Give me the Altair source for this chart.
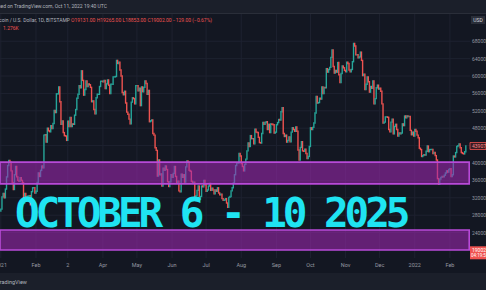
import altair as alt
import pandas as pd

W, H = 486, 290
BG = "#131722"
PANEL = "#1b1f2a"
GRID = "#1e2230"
UP = "#26a69a"
DOWN = "#ef5350"
AXIS_TXT = "#9598a1"

# Daily closes, BTC/USD (Bitstamp), one list per month
c_2021_01 = [29400, 32200, 33000, 32000, 34000, 36800, 39400, 40600, 40200, 38200,
             35500, 33900, 37300, 39200, 36800, 36000, 35800, 36600, 36000, 35500,
             30800, 33000, 32100, 32300, 32400, 32500, 30400, 33400, 34300, 34300, 33100]
c_2021_02 = [33500, 35500, 37700, 36900, 38300, 39300, 38900, 46400, 46500, 44800,
             48000, 47400, 47200, 48600, 47900, 49100, 52100, 51600, 55900, 55900,
             57500, 54100, 48900, 49700, 47000, 46300, 46200, 45200]
c_2021_03 = [49600, 48400, 50500, 48400, 49000, 48900, 51000, 52300, 54900, 55800,
             57800, 57300, 61200, 59000, 55600, 56900, 58900, 57600, 58200, 58000,
             57400, 54100, 54300, 52300, 51300, 55000, 55800, 55800, 57600, 58800, 58800]
c_2021_04 = [58700, 59000, 57100, 58200, 59100, 57900, 56000, 58100, 58100, 59800,
             59800, 59900, 63600, 62900, 63200, 61400, 60000, 56200, 55700, 56500,
             53800, 51700, 51200, 50100, 49000, 54000, 55000, 54800, 53600, 57800]
c_2021_05 = [57800, 56600, 57200, 53200, 57500, 56400, 57400, 58900, 58300, 55800,
             56700, 49500, 49700, 49900, 46800, 46400, 43500, 42900, 37000, 40700,
             37300, 37500, 34700, 38800, 38300, 39300, 38500, 35700, 34600, 35700, 37300]
c_2021_06 = [36700, 37600, 39200, 36900, 35500, 35800, 33600, 33400, 37400, 36700,
             37300, 35600, 39100, 40500, 40200, 38300, 38100, 35800, 35500, 35600,
             31600, 32500, 33700, 34700, 31600, 32300, 34700, 34500, 36000, 35000]
c_2021_07 = [33500, 33800, 34700, 35300, 33700, 34200, 33800, 32900, 33800, 33500,
             34300, 33100, 32700, 32800, 31800, 31400, 31500, 31800, 30800, 29800,
             32100, 32300, 33600, 34300, 35400, 37300, 39400, 40000, 40000, 42200, 41600]
c_2021_08 = [39900, 39200, 38200, 39700, 40900, 42800, 44600, 43800, 46300, 45600,
             45600, 44400, 47800, 47100, 47000, 45900, 44700, 44600, 46800, 49300,
             48900, 49300, 49500, 47700, 48900, 47000, 49000, 48900, 48800, 46900, 47100]
c_2021_09 = [48800, 49300, 50000, 49900, 51800, 52700, 46800, 46100, 46400, 44800,
             45200, 46000, 44900, 47100, 48100, 47700, 47300, 48300, 47300, 43000,
             40700, 43600, 44900, 42800, 42700, 43200, 42200, 41000, 41500, 43800]
c_2021_10 = [48100, 47700, 48200, 49200, 51500, 55300, 53800, 53900, 54900, 54700,
             57500, 56000, 57400, 57300, 61700, 60900, 61500, 62000, 64300, 66000,
             62200, 60700, 61300, 60900, 63100, 60300, 58500, 60600, 62300, 61900, 61300]
c_2021_11 = [61000, 63200, 62900, 61400, 61000, 61500, 63300, 67500, 66900, 64900,
             64900, 64200, 64400, 65500, 63600, 60100, 60400, 56900, 58100, 59800,
             58700, 56300, 57600, 57200, 58900, 53600, 54800, 57300, 57900, 57000]
c_2021_12 = [57200, 56500, 53600, 49200, 49400, 50600, 50600, 50500, 47700, 47200,
             49400, 50100, 46700, 48400, 48900, 47700, 46200, 46900, 46700, 46900,
             49000, 48600, 50800, 50400, 50800, 50700, 50700, 47500, 46500, 47100, 46200]
c_2022_01 = [47700, 47300, 46400, 45800, 43400, 43100, 41500, 41700, 41900, 41800,
             42700, 43900, 42600, 43100, 43100, 43100, 42200, 42400, 41700, 40700,
             36400, 35100, 36300, 36700, 36900, 36800, 37200, 37700, 38200, 37900, 38500]
c_2022_02 = [38700, 36900, 37300, 41600, 41400, 42400, 43800, 44000, 44400, 43500,
             42400, 42200, 42100, 42600, 43907]
close_2020_12_31 = 28950

month_days = [0, 31, 59, 90, 120, 151, 181, 212, 243, 273, 304, 334, 365, 396]
month_labels = ["2021", "Feb", "2", "Apr", "May", "Jun", "Jul", "Aug", "Sep",
                "Oct", "Nov", "Dec", "2022", "Feb"]
price_ticks = [68000, 64000, 60000, 56000, 52000, 48000, 44000, 40000,
               36000, 32000, 28000, 24000, 20000]
zone_tops = [40200, 24600]
zone_bottoms = [35200, 20000]
zone_end_day = 413
current_price = 19002
headline = "OCTOBER 6 - 10 2025"

closes = (c_2021_01 + c_2021_02 + c_2021_03 + c_2021_04 + c_2021_05 + c_2021_06 +
          c_2021_07 + c_2021_08 + c_2021_09 + c_2021_10 + c_2021_11 + c_2021_12 +
          c_2022_01 + c_2022_02)
opens = [close_2020_12_31] + closes[:-1]
candles = pd.DataFrame({"day": range(len(closes)), "open": opens, "close": closes})
candles["dir"] = ["up" if c >= o else "down" for o, c in zip(opens, closes)]

X_DOM = [-0.74, 427.8]
xs = alt.Scale(domain=X_DOM, nice=False, zero=False)
ys = alt.Scale(domain=[10790, 77490], nice=False, zero=False)
one = pd.DataFrame({"k": [0]})


def px_to_day(px):
    return X_DOM[0] + px * (X_DOM[1] - X_DOM[0]) / W


# background panels: header strip and footer strip
header = alt.Chart(one).mark_rect(color=PANEL).encode(
    x=alt.value(0), x2=alt.value(W), y=alt.value(0), y2=alt.value(13))
header_line = alt.Chart(one).mark_rect(color="#2a2e39").encode(
    x=alt.value(0), x2=alt.value(W), y=alt.value(13), y2=alt.value(14))
footer = alt.Chart(one).mark_rect(color=PANEL).encode(
    x=alt.value(0), x2=alt.value(W), y=alt.value(273), y2=alt.value(H))

# grid
hgrid = alt.Chart(pd.DataFrame({"p": price_ticks})).mark_rule(
    color=GRID, strokeWidth=1).encode(
    y=alt.Y("p:Q", scale=ys, axis=None), x=alt.value(0), x2=alt.value(470))
vgrid = alt.Chart(pd.DataFrame({"d": month_days})).mark_rule(
    color=GRID, strokeWidth=1).encode(
    x=alt.X("d:Q", scale=xs, axis=None), y=alt.value(14), y2=alt.value(258))

# candles (body from previous close to close)
bodies = alt.Chart(candles).mark_rule(strokeWidth=1.4, strokeCap="square").encode(
    x=alt.X("day:Q", scale=xs, axis=None),
    y=alt.Y("open:Q", scale=ys, axis=None),
    y2="close:Q",
    color=alt.Color("dir:N", scale=alt.Scale(domain=["up", "down"], range=[UP, DOWN]),
                    legend=None),
)

# purple zones
zones_df = pd.DataFrame({"x0": [X_DOM[0]] * 2, "x1": [zone_end_day] * 2,
                         "top": zone_tops, "bot": zone_bottoms})
zones = alt.Chart(zones_df).mark_rect(
    fill="#9c27b0", fillOpacity=0.58, stroke="#b84ad8", strokeWidth=1.6
).encode(
    x=alt.X("x0:Q", scale=xs, axis=None), x2="x1:Q",
    y=alt.Y("top:Q", scale=ys, axis=None), y2="bot:Q")

# axis labels
price_lbl = alt.Chart(pd.DataFrame({"p": price_ticks})).mark_text(
    align="left", baseline="middle", fontSize=5, font="Roboto", color=AXIS_TXT
).encode(y=alt.Y("p:Q", scale=ys, axis=None), x=alt.value(472),
         text=alt.Text("p:Q", format="d"))
month_lbl = alt.Chart(pd.DataFrame({"d": month_days, "t": month_labels})).mark_text(
    align="center", baseline="middle", fontSize=5.5, font="Roboto", color=AXIS_TXT
).encode(x=alt.X("d:Q", scale=xs, axis=None), y=alt.value(265), text="t:N")

# price boxes on the axis
last_df = pd.DataFrame({"p": [closes[-1]]})
last_box = alt.Chart(last_df).mark_rect(
    fill="#3a1c22", stroke=DOWN, strokeWidth=0.8, yOffset=-3.5, y2Offset=3.5
).encode(y=alt.Y("p:Q", scale=ys, axis=None), y2="p:Q",
         x=alt.value(470), x2=alt.value(486))
last_txt = alt.Chart(last_df).mark_text(
    align="left", baseline="middle", fontSize=5, font="Roboto", color="#ff8a8a"
).encode(y=alt.Y("p:Q", scale=ys, axis=None), x=alt.value(472),
         text=alt.Text("p:Q", format="d"))

cur_df = pd.DataFrame({"p": [current_price], "t2": ["04:19:55"]})
cur_box = alt.Chart(cur_df).mark_rect(
    fill=DOWN, yOffset=-8, y2Offset=5
).encode(y=alt.Y("p:Q", scale=ys, axis=None), y2="p:Q",
         x=alt.value(470), x2=alt.value(486))
cur_txt = alt.Chart(cur_df).mark_text(
    align="left", baseline="middle", fontSize=5, font="Roboto", color="#ffffff", dy=-4
).encode(y=alt.Y("p:Q", scale=ys, axis=None), x=alt.value(472),
         text=alt.Text("p:Q", format="d"))
cur_txt2 = alt.Chart(cur_df).mark_text(
    align="left", baseline="middle", fontSize=4.5, font="Roboto", color="#ffffff", dy=2
).encode(y=alt.Y("p:Q", scale=ys, axis=None), x=alt.value(471), text="t2:N")

usd_box = alt.Chart(one).mark_rect(fill="#2a2e39").encode(
    x=alt.value(471), x2=alt.value(485), y=alt.value(16), y2=alt.value(24))
usd_txt = alt.Chart(pd.DataFrame({"t": ["USD"]})).mark_text(
    align="center", baseline="middle", fontSize=5, font="Roboto", color="#d1d4dc"
).encode(x=alt.value(478), y=alt.value(20), text="t:N")

# header / legend texts
pub = alt.Chart(pd.DataFrame({"t": ["Published on TradingView.com, Oct 11, 2022 19:40 UTC"]})
                ).mark_text(align="right", baseline="middle", fontSize=5, font="Roboto",
                            color="#b2b5be").encode(x=alt.value(107), y=alt.value(6), text="t:N")
sym = alt.Chart(pd.DataFrame({"t": ["Bitcoin / U.S. Dollar, 1D, BITSTAMP"]})
                ).mark_text(align="right", baseline="middle", fontSize=5, font="Roboto",
                            color="#b2b5be").encode(x=alt.value(70), y=alt.value(20), text="t:N")
ohlc = alt.Chart(pd.DataFrame({"t": ["O19131.00 H19265.00 L18853.00 C19002.00 \u2212129.00 (\u22120.67%)"]})
                 ).mark_text(align="left", baseline="middle", fontSize=5, font="Roboto",
                             color=DOWN).encode(x=alt.value(71), y=alt.value(20), text="t:N")
vol = alt.Chart(pd.DataFrame({"t": ["1.276K"]})).mark_text(
    align="left", baseline="middle", fontSize=5, font="Roboto", color=DOWN
).encode(x=alt.value(3), y=alt.value(28), text="t:N")
brand = alt.Chart(pd.DataFrame({"t": ["TradingView"]})).mark_text(
    align="right", baseline="middle", fontSize=5.5, font="Roboto", color="#b2b5be"
).encode(x=alt.value(27), y=alt.value(282), text="t:N")

# headline, one glyph per fixed-width cell
chars = list(headline)
head_df = pd.DataFrame({"c": chars,
                        "pos": [px_to_day(17 + 20.6 * i + 10.3) for i in range(len(chars))]})
head = alt.Chart(head_df).mark_text(
    align="center", baseline="alphabetic", fontSize=41, font="DejaVu Sans Mono",
    fontWeight="bold", color="#1fe4f2"
).encode(x=alt.X("pos:Q", scale=xs, axis=None), y=alt.value(227), text="c:N")

chart = alt.layer(
    header, header_line, footer, hgrid, vgrid, bodies, zones,
    price_lbl, month_lbl, last_box, last_txt, cur_box, cur_txt, cur_txt2,
    usd_box, usd_txt, pub, sym, ohlc, vol, brand, head
).properties(
    width=W, height=H, background=BG, padding=0, autosize="none"
).configure_view(stroke=None)

chart.save("out.html", embed_options={"renderer": "svg", "actions": False})
